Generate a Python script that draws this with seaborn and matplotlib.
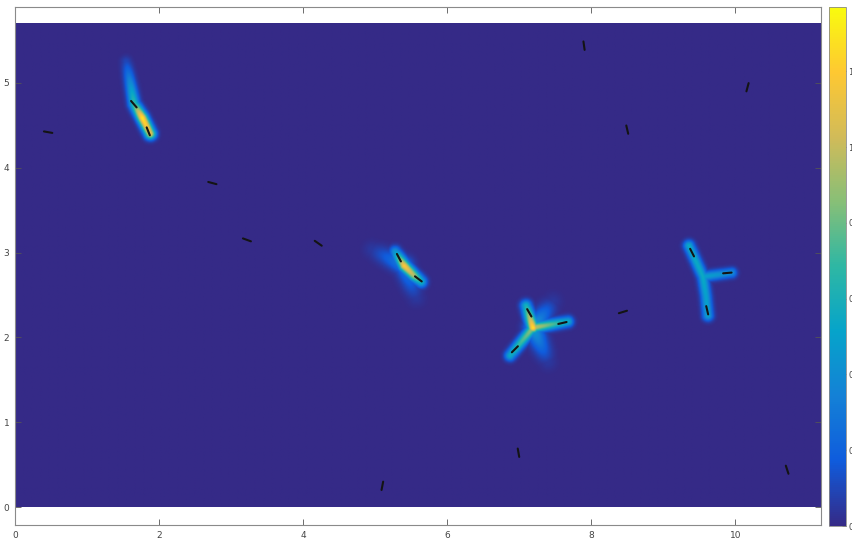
import numpy as np
import matplotlib
matplotlib.use("Agg")
import matplotlib.pyplot as plt
import seaborn as sns

# ---------------- data ----------------
# short black segments: centre x, centre y, screen angle (deg)
seg_x = [0.46, 2.74, 3.22, 4.21, 7.90, 8.50, 10.17, 8.44, 6.99, 5.10, 10.72,
         1.65, 1.85, 5.33, 5.60, 7.14, 7.60, 6.94, 9.40, 9.89, 9.61]
seg_y = [4.42, 3.82, 3.15, 3.11, 5.44, 4.45, 4.95, 2.30, 0.64, 0.25, 0.44,
         4.75, 4.43, 2.94, 2.69, 2.29, 2.17, 1.86, 3.00, 2.76, 2.32]
seg_angle = [-10, -15, -20, -35, -82, -77, 75, 17, -80, 79, -72,
             -49, -68, -62, -37, -60, 13, 45, -63, 5, -77]

# intensity ridges: polyline x, polyline y, value at each vertex, spread (px)
ridge_x = [
    [1.54, 1.65, 1.764, 1.875],
    [5.278, 5.403, 5.542, 5.639],
    [4.958, 5.403, 5.569],
    [7.194, 7.097],
    [7.194, 7.681],
    [7.194, 6.875],
    [7.194, 7.472],
    [7.194, 7.403],
    [9.361, 9.556],
    [9.556, 9.958],
    [9.556, 9.597, 9.625],
]
ridge_y = [
    [5.25, 4.75, 4.587, 4.399],
    [3.007, 2.842, 2.724, 2.653],
    [3.031, 2.842, 2.465],
    [2.111, 2.370],
    [2.111, 2.182],
    [2.111, 1.781],
    [2.111, 2.417],
    [2.111, 1.710],
    [3.078, 2.712],
    [2.712, 2.759],
    [2.712, 2.488, 2.252],
]
ridge_val = [
    [0.10, 0.70, 1.30, 1.10],
    [0.45, 1.20, 0.95, 0.60],
    [0.05, 0.35, 0.05],
    [1.28, 0.60],
    [1.00, 0.55],
    [0.90, 0.55],
    [0.50, 0.05],
    [0.50, 0.05],
    [0.55, 0.55],
    [0.50, 0.40],
    [0.55, 0.50, 0.50],
]
ridge_spread = [3.8, 3.8, 6.0, 3.8, 3.6, 3.6, 6.0, 6.0, 3.6, 3.4, 3.6]

cbar_ticks = [0, 0.2, 0.4, 0.6, 0.8, 1.0, 1.2]
cbar_labels = ["0", "0", "0", "0", "0", "1", "1"]
x_ticks = [0, 2, 4, 6, 8, 10]
y_ticks = [0, 1, 2, 3, 4, 5]

# ---------------- field ----------------
PX_X, PX_Y = 72.0, 84.8          # pixels per data unit
X_MAX, Y_MAX = 11.19, 5.70
nx, ny = 900, 460
gx = np.linspace(0, X_MAX, nx) * PX_X
gy = np.linspace(0, Y_MAX, ny) * PX_Y
GX, GY = np.meshgrid(gx, gy)
field = np.zeros_like(GX)
for xs, ys, vs, sg in zip(ridge_x, ridge_y, ridge_val, ridge_spread):
    for i in range(len(xs) - 1):
        x0, y0 = xs[i] * PX_X, ys[i] * PX_Y
        x1, y1 = xs[i + 1] * PX_X, ys[i + 1] * PX_Y
        dx, dy = x1 - x0, y1 - y0
        t = np.clip(((GX - x0) * dx + (GY - y0) * dy) / (dx * dx + dy * dy), 0, 1)
        d2 = (GX - (x0 + t * dx)) ** 2 + (GY - (y0 + t * dy)) ** 2
        pk = vs[i] + t * (vs[i + 1] - vs[i])
        field = np.maximum(field, pk * np.exp(-d2 / (2 * sg * sg)))

# ---------------- plot ----------------
sns.set_theme(style="white")
parula = sns.blend_palette(['#352a87', '#0f5cdd', '#1481d6', '#06a4ca', '#2eb7a4',
                            '#87bf77', '#d1bb59', '#fec832', '#f9fb0e'], as_cmap=True)

fig = plt.figure(figsize=(8.53, 5.42), dpi=100)
ax = fig.add_axes([15 / 853, 17 / 542, 806 / 853, 518 / 542])
im = ax.imshow(field, origin="lower", extent=[0, X_MAX, 0, Y_MAX], cmap=parula,
               vmin=0, vmax=1.37, aspect="auto", interpolation="bilinear")

L = 8.5
for cx, cy, a in zip(seg_x, seg_y, seg_angle):
    r = np.deg2rad(a)
    hx = np.cos(r) * L / 2 / PX_X
    hy = np.sin(r) * L / 2 / PX_Y
    ax.plot([cx - hx, cx + hx], [cy - hy, cy + hy], color="#141414", lw=1.5,
            solid_capstyle="round")

ax.set_xlim(0, X_MAX)
ax.set_ylim(-0.212, 5.896)
ax.set_xticks(x_ticks)
ax.set_yticks(y_ticks)
ax.tick_params(direction="in", length=4, width=0.6, colors="#555555",
               labelsize=6.5, labelcolor="#444444", top=True, right=True,
               bottom=True, left=True, pad=4)
for s in ax.spines.values():
    s.set_color("#8a8a8a")
    s.set_linewidth(0.8)

cax = fig.add_axes([829 / 853, 16 / 542, 17 / 853, 519 / 542])
cb = fig.colorbar(im, cax=cax, ticks=cbar_ticks)
cb.set_ticklabels(cbar_labels)
cb.outline.set_edgecolor("#8a8a8a")
cb.outline.set_linewidth(0.6)
cax.tick_params(direction="in", length=3, width=0.6, colors="#555555",
                labelsize=6, labelcolor="#444444", pad=1.5)

fig.savefig("out.png", dpi=100)
